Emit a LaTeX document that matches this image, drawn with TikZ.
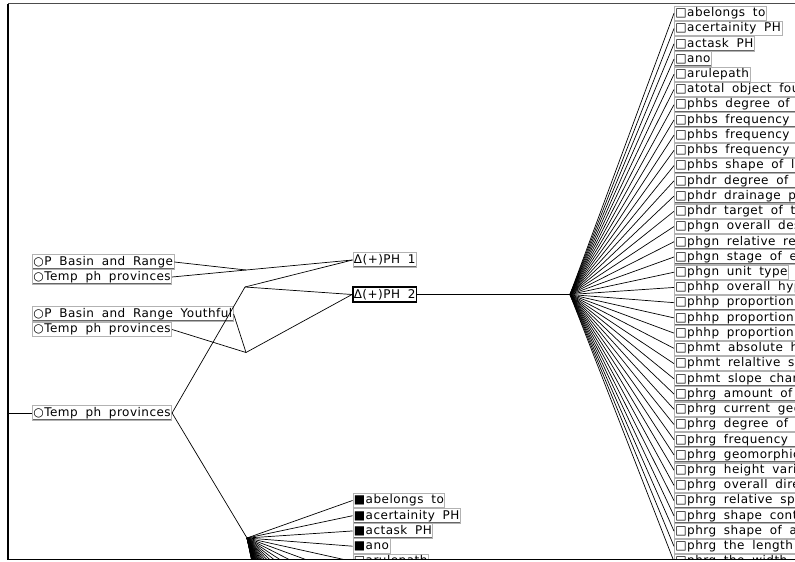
\documentclass[tikz,border=0pt]{standalone}
\usepackage{fontspec}
\setmainfont[LetterSpace=4,WordSpace=1.8]{DejaVu Sans}
\usetikzlibrary{positioning}

% evidence items: text / cut off at the right edge (1) or not (0)
\newcommand{\evlist}{abelongs to/0, acertainity PH/0, actask PH/0, ano/0, arulepath/0,
  atotal object fou/1, phbs degree of/1, phbs frequency/1, phbs frequency/1,
  phbs frequency/1, phbs shape of l/1, phdr degree of/1, phdr drainage p/1,
  phdr target of th/1, phgn overall des/1, phgn relative rel/1, phgn stage of e/1,
  phgn unit type/0, phhp overall hyp/1, phhp proportion/1, phhp proportion/1,
  phhp proportion/1, phmt absolute h/1, phmt relaltive si/1, phmt slope char/1,
  phrg amount of/1, phrg current geo/1, phrg degree of/1, phrg frequency/1,
  phrg geomorphic/1, phrg height varia/1, phrg overall dire/1, phrg relative spa/1,
  phrg shape cont/1, phrg shape of a/1, phrg the length/1, phrg the width/1}
\newcommand{\cutbox}[1]{\makebox[140pt][l]{#1}}

\begin{document}
\begin{tikzpicture}[x=1pt, y=-1pt,
    every node/.style={font=\fontsize{12}{14}\selectfont},
    leaf/.style={draw=black!30, fill=white, line width=0.8pt, inner xsep=1pt,
      inner ysep=0pt, minimum height=14.6pt, anchor=west,
      path picture={\draw[black!60, line width=1.8pt]
        (path picture bounding box.south west) -- (path picture bounding box.south east);}},
    sel/.style={leaf, draw=black, line width=1.6pt},
    wire/.style={black, line width=0.7pt}]
  \useasboundingbox (0,0) rectangle (795,562);
  \begin{scope}
    \clip (8,3.5) rectangle (795,559.5);
    % junction points
    \coordinate (j1) at (246,270);
    \coordinate (j2) at (245,287);
    \coordinate (j3) at (246,352.5);
    \coordinate (j4) at (247,538);
    \coordinate (fan) at (570,294.5);
    \coordinate (edge) at (8,413);
    % left hand findings
    \node[leaf] (pbr) at (32,262) {○P Basin and Range};
    \node[leaf] (tpa) at (32,277) {○Temp ph provinces};
    \node[leaf] (pbry) at (32,314) {○P Basin and Range Youthful};
    \node[leaf] (tpb) at (32,329.5) {○Temp ph provinces};
    \node[leaf] (tpc) at (32,413) {○Temp ph provinces};
    % hypotheses
    \node[leaf] (ph1) at (352.5,260) {Δ(+)PH 1};
    \node[sel] (ph2) at (352,294.5) {Δ(+)PH 2};
    \foreach \a/\b in {pbr/j1, tpa/j1, pbry/j3, tpb/j3, tpc/j2, tpc/j4} {
      \draw[wire] (\a.east) -- (\b);
    }
    \foreach \a/\b in {j1/ph1, j2/ph1, j2/ph2, j3/ph2} {
      \draw[wire] (\a) -- (\b.west);
    }
    \draw[wire] (edge) -- (tpc.west);
    \draw[wire] (ph2.east) -- (fan);
    % right hand fan
    \foreach \t/\c [count=\i from 0] in \evlist {
      \ifnum\c=1
        \node[leaf] (r\i) at (674,{13.3+15.23*\i}) {\cutbox{□\t}};
      \else
        \node[leaf] (r\i) at (674,{13.3+15.23*\i}) {□\t};
      \fi
      \draw[wire] (fan) -- (r\i.west);
    }
    % bottom fan, the rest runs on below the frame
    \foreach \t/\c [count=\i from 0] in {abelongs to/1, acertainity PH/1, actask PH/1,
        ano/1, arulepath/0} {
      \node[leaf] (b\i) at (352.5,{500.5+15.23*\i}) {\ifnum\c=1 ■\else □\fi\t};
      \draw[wire] (j4) -- (b\i.west);
    }
    \foreach \i in {6,...,37} {
      \coordinate (b\i) at (352.5,{500.5+15.23*(\i-1)});
      \draw[wire] (j4) -- (b\i);
    }
  \end{scope}
  % window frame
  \draw[black!70, line width=1.2pt] (8,3.5) -- (795,3.5);
  \draw[black, line width=1.4pt] (8,3.5) -- (8,559.5) -- (795,559.5);
\end{tikzpicture}
\end{document}
